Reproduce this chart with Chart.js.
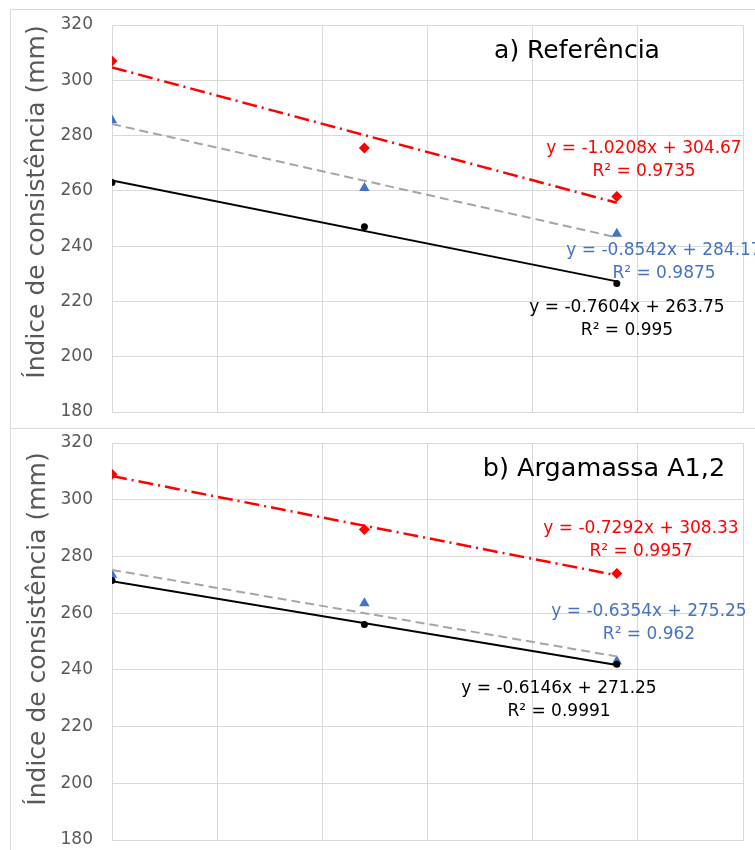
<!DOCTYPE html>
<html>
<head>
<meta charset="utf-8">
<script src="https://cdn.jsdelivr.net/npm/chart.js@4.4.1/dist/chart.umd.min.js"></script>
<style>
  html, body { margin: 0; padding: 0; background: #fff; width: 755px; height: 850px; overflow: hidden; position: relative; }
  .panel { position: absolute; left: 10px; box-sizing: content-box; }
  #p1 { top: 9px; border: 1px solid #d9d9d9; width: 760px; height: 418px; }
  #p2 { top: 428px; border-left: 1px solid #d9d9d9; width: 760px; height: 422px; }
  canvas { display: block; }
</style>
</head>
<body>
<div class="panel" id="p1"><canvas id="c1" width="744" height="418"></canvas></div>
<div class="panel" id="p2"><canvas id="c2" width="744" height="421"></canvas></div>
<script>
// ---------- data ----------
const xValues = [0, 24, 48];
const trendX = [0, 48];

const yTicks = [180, 200, 220, 240, 260, 280, 300, 320];
const axisTitle = 'Índice de consistência (mm)';

// a) Referência
const refRed   = [307, 275.5, 258];
const refBlue  = [285.5, 261, 244.5];
const refBlack = [263, 247, 226.5];
const refRedTrend   = [304.67, 255.67];
const refBlueTrend  = [284.17, 243.17];
const refBlackTrend = [263.75, 227.25];
const refTitle = 'a) Referência';
const refEquations = ['y = -1.0208x + 304.67', 'y = -0.8542x + 284.17', 'y = -0.7604x + 263.75'];
const refR2 = ['R² = 0.9735', 'R² = 0.9875', 'R² = 0.995'];

// b) Argamassa A1,2
const argRed   = [309, 289.5, 274];
const argBlue  = [273.5, 263.5, 243];
const argBlack = [271.5, 256, 242];
const argRedTrend   = [308.33, 273.33];
const argBlueTrend  = [275.25, 244.75];
const argBlackTrend = [271.25, 241.75];
const argTitle = 'b) Argamassa A1,2';
const argEquations = ['y = -0.7292x + 308.33', 'y = -0.6354x + 275.25', 'y = -0.6146x + 271.25'];
const argR2 = ['R² = 0.9957', 'R² = 0.962', 'R² = 0.9991'];

// ---------- styling ----------
const RED = '#ff0000', BLUE = '#4472c4', BLACK = '#000000', GRAY = '#a5a5a5';
const FONT = "'DejaVu Sans', sans-serif";
const seriesColors = [RED, BLUE, BLACK];

function pts(xs, ys) { return xs.map((x, i) => ({ x: x, y: ys[i] })); }

function buildDatasets(red, blue, black, redT, blueT, blackT) {
  return [
    { label: 'tr-black', data: pts(trendX, blackT), showLine: true, borderColor: BLACK, borderWidth: 2, pointRadius: 0, order: 1 },
    { label: 'tr-blue', data: pts(trendX, blueT), showLine: true, borderColor: GRAY, borderWidth: 2, borderDash: [9, 5], pointRadius: 0, order: 2 },
    { label: 'tr-red', data: pts(trendX, redT), showLine: true, borderColor: RED, borderWidth: 2.5, borderDash: [15, 5, 2, 5], pointRadius: 0, order: 3 },
    { label: 'black', data: pts(xValues, black), showLine: false, pointStyle: 'circle', pointRadius: 3.5, backgroundColor: BLACK, borderColor: BLACK, borderWidth: 0, order: 4 },
    { label: 'blue', data: pts(xValues, blue), showLine: false, pointStyle: 'triangle', pointRadius: 6, backgroundColor: BLUE, borderColor: BLUE, borderWidth: 0, order: 5 },
    { label: 'red', data: pts(xValues, red), showLine: false, pointStyle: 'rectRot', pointRadius: 5.5, backgroundColor: RED, borderColor: RED, borderWidth: 0, order: 6 }
  ];
}

// text placement (canvas pixels)
const textLayout = {
  c1: {
    axisTitle: { x: 26, y: 192 },
    title: { x: 566, y: 41, size: 25 },
    series: [ { x: 633, y: 139 }, { x: 653, y: 241 }, { x: 616, y: 298 } ]
  },
  c2: {
    axisTitle: { x: 27, y: 201 },
    title: { x: 593, y: 41, size: 25.5 },
    series: [ { x: 630, y: 101 }, { x: 638, y: 184 }, { x: 548, y: 261 } ]
  }
};

const textPlugin = {
  id: 'textPlugin',
  afterDraw(chart) {
    const cfg = chart.config.options.plugins.textPlugin;
    const L = textLayout[chart.canvas.id];
    const ctx = chart.ctx;
    ctx.save();
    ctx.textAlign = 'center';
    ctx.textBaseline = 'middle';
    ctx.save();
    ctx.translate(L.axisTitle.x, L.axisTitle.y);
    ctx.rotate(-Math.PI / 2);
    ctx.fillStyle = '#595959';
    ctx.font = '25px ' + FONT;
    ctx.fillText(axisTitle, 0, 0);
    ctx.restore();
    ctx.fillStyle = '#000';
    ctx.font = L.title.size + 'px ' + FONT;
    ctx.fillText(cfg.title, L.title.x, L.title.y);
    ctx.font = '17px ' + FONT;
    L.series.forEach((p, i) => {
      ctx.fillStyle = seriesColors[i];
      ctx.fillText(cfg.eqs[i], p.x, p.y);
      ctx.fillText(cfg.r2[i], p.x, p.y + 23);
    });
    ctx.restore();
  }
};

function makeOptions(padTop, padBottom, title, eqs, r2) {
  return {
    responsive: false,
    animation: false,
    layout: { padding: { top: padTop, bottom: padBottom, left: 0, right: 12 } },
    plugins: {
      legend: { display: false },
      tooltip: { enabled: false },
      textPlugin: { title: title, eqs: eqs, r2: r2 }
    },
    scales: {
      x: {
        type: 'linear', min: 0, max: 60,
        ticks: { display: false, stepSize: 10 },
        grid: { color: '#d9d9d9', lineWidth: 1, drawTicks: false },
        border: { color: '#d9d9d9' },
        afterFit(s) { s.height = 0; s.paddingLeft = 0; s.paddingRight = 0; }
      },
      y: {
        type: 'linear', min: yTicks[0], max: yTicks[yTicks.length - 1],
        afterBuildTicks(s) { s.ticks = yTicks.map(v => ({ value: v })); },
        ticks: { color: '#595959', font: { family: FONT, size: 17 }, padding: 19 },
        grid: { color: '#d9d9d9', lineWidth: 1, drawTicks: false },
        border: { color: '#d9d9d9' },
        afterFit(s) { s.width = 101; s.paddingTop = 0; s.paddingBottom = 0; }
      }
    }
  };
}

new Chart(document.getElementById('c1'), {
  type: 'scatter',
  data: { datasets: buildDatasets(refRed, refBlue, refBlack, refRedTrend, refBlueTrend, refBlackTrend) },
  options: makeOptions(15, 16, refTitle, refEquations, refR2),
  plugins: [textPlugin]
});

new Chart(document.getElementById('c2'), {
  type: 'scatter',
  data: { datasets: buildDatasets(argRed, argBlue, argBlack, argRedTrend, argBlueTrend, argBlackTrend) },
  options: makeOptions(15, 9, argTitle, argEquations, argR2),
  plugins: [textPlugin]
});
</script>
</body>
</html>
